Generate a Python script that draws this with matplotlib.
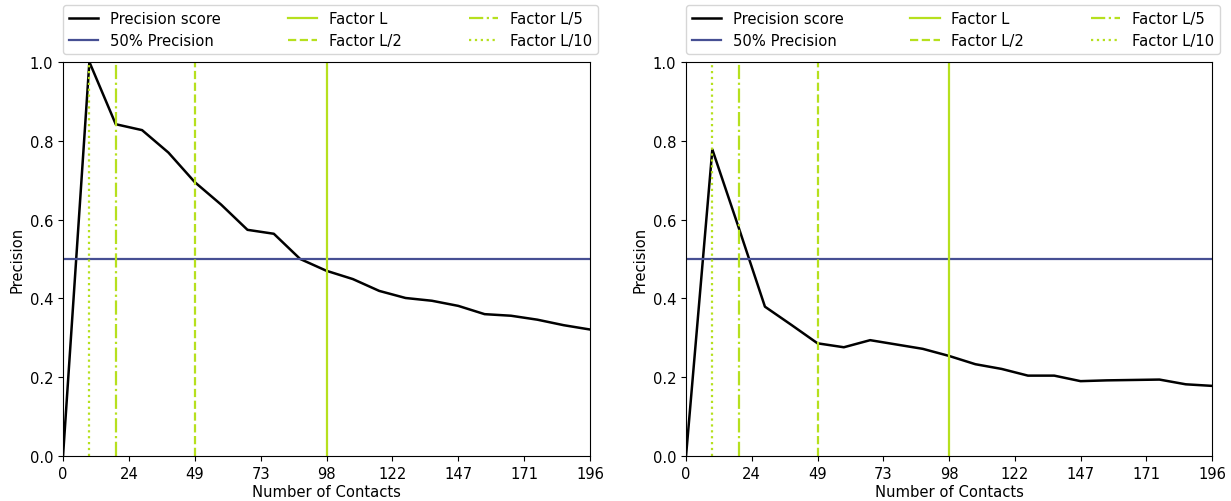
import numpy as np
import matplotlib
matplotlib.use('Agg')
import matplotlib.pyplot as plt

plt.rcParams['font.size'] = 10.6

L = 98
contacts = [0, 9.8, 19.6, 29.4, 39.2, 49.0, 58.8, 68.6, 78.4, 88.2, 98.0,
            107.8, 117.6, 127.4, 137.2, 147.0, 156.8, 166.6, 176.4, 186.2, 196.0]

precision_left = [0.0, 1.0, 0.842, 0.827, 0.770, 0.695, 0.638, 0.574, 0.564, 0.500, 0.470,
                  0.449, 0.419, 0.401, 0.394, 0.381, 0.360, 0.356, 0.346, 0.332, 0.321]
precision_right = [0.0, 0.778, 0.580, 0.379, 0.333, 0.286, 0.276, 0.294, 0.283, 0.272, 0.254,
                   0.233, 0.221, 0.204, 0.204, 0.190, 0.192, 0.193, 0.194, 0.182, 0.178]

factors = [1, 2, 5, 10]
factor_labels = ['Factor L', 'Factor L/2', 'Factor L/5', 'Factor L/10']
factor_styles = ['-', '--', '-.', ':']

green = '#b6e01e'
navy = '#464f93'

fig = plt.figure(figsize=(12.31, 5.02), dpi=100)
ax1 = fig.add_axes([0.0512, 0.0896, 0.4281, 0.785])
ax2 = fig.add_axes([0.5573, 0.0896, 0.4273, 0.785])

for ax, prec in [(ax1, precision_left), (ax2, precision_right)]:
    ax.plot(contacts, prec, color='black', lw=1.8, label='Precision score')
    ax.axhline(0.5, color=navy, lw=1.6, label='50% Precision')
    for f, lab, ls in zip(factors, factor_labels, factor_styles):
        ax.axvline(L / f, color=green, lw=1.6, ls=ls, label=lab)
    ticks = np.linspace(0, 2 * L, 9)
    ax.set_xticks(ticks)
    ax.set_xticklabels([str(int(t)) for t in ticks])
    ax.set_xlim(0, 2 * L)
    ax.set_ylim(0, 1.0)
    ax.set_xlabel('Number of Contacts', labelpad=2)
    ax.set_ylabel('Precision')
    ax.legend(bbox_to_anchor=(0., 1.02, 1.015, .102), loc='lower left', ncol=3,
              mode='expand', borderaxespad=0.)

fig.savefig('out.png', dpi=100)
